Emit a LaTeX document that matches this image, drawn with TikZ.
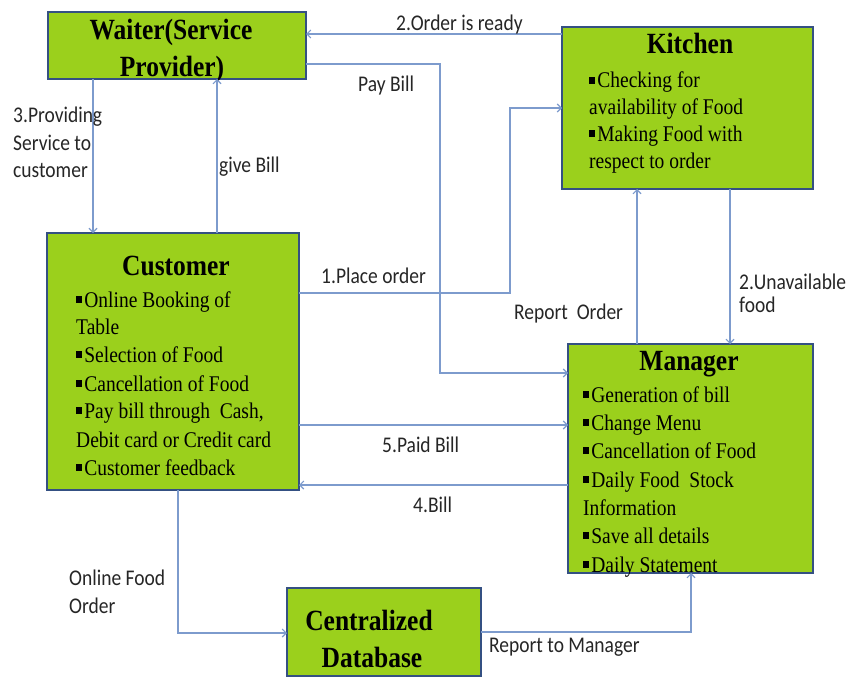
\documentclass[tikz,border=0pt]{standalone}
\usepackage{fontspec}
\setmainfont{Liberation Serif}
\newfontfamily\labfont{Carlito}
\usepackage{graphicx}
\usetikzlibrary{arrows.meta}
\definecolor{boxfill}{RGB}{155,208,28}
\definecolor{boxline}{RGB}{52,80,130}
\definecolor{connline}{RGB}{125,155,205}
\newcommand\sv[1]{\scalebox{1}[1.15]{#1}}
\newcommand\bul{\rule[0.2em]{0.3em}{0.3em}\hspace{0.12em}}
\tikzset{
  box/.style={draw=boxline, fill=boxfill, line width=2pt, rectangle, inner sep=0pt, outer sep=0pt},
  conn/.style={draw=connline, line width=1.1pt, -{Straight Barb[length=4pt,width=8pt]}},
  ttl/.style={inner sep=0pt, anchor=base, font=\fontsize{25.5}{28}\selectfont\bfseries},
  itm/.style={inner sep=0pt, anchor=base west, font=\fontsize{19.5}{24}\selectfont},
  lab/.style={inner sep=0pt, anchor=base west, font=\fontsize{19.5}{24}\selectfont\labfont, text=black!85},
}
\begin{document}
\begin{tikzpicture}[x=1pt,y=-1pt]
\useasboundingbox[fill=white] (0,0) rectangle (851,677);
% boxes
\node[box, minimum width=258pt, minimum height=67pt] (waiter) at (177,45.5) {};
\node[box, minimum width=251pt, minimum height=162pt] (kitchen) at (687.5,108) {};
\node[box, minimum width=252pt, minimum height=257pt] (customer) at (173,361.5) {};
\node[box, minimum width=245pt, minimum height=229pt] (manager) at (690.5,458.5) {};
\node[box, minimum width=194pt, minimum height=88pt] (database) at (384,632) {};
% titles
\node[ttl] (wt1) at (171,40) {\sv{Waiter(Service}};
\node[ttl] (wt2) at (172,77) {\sv{Provider)}};
\node[ttl] (kt) at (690,53) {\sv{Kitchen}};
\node[ttl] (ct) at (176,275) {\sv{Customer}};
\node[ttl] (mt) at (689,370) {\sv{Manager}};
\node[ttl] (dt1) at (369,630) {\sv{Centralized}};
\node[ttl] (dt2) at (372,667) {\sv{Database}};
% kitchen items
\node[itm] (k1) at (589,88) {\sv{\bul Checking for}};
\node[itm] (k2) at (589,114.5) {\sv{availability of Food}};
\node[itm] (k3) at (589,141) {\sv{\bul Making Food with}};
\node[itm] (k4) at (589,168) {\sv{respect to order}};
% customer items
\node[itm] (c1) at (76,307) {\sv{\bul Online Booking of}};
\node[itm] (c2) at (76,334) {\sv{Table}};
\node[itm] (c3) at (76,362) {\sv{\bul Selection of Food}};
\node[itm] (c4) at (76,391) {\sv{\bul Cancellation of Food}};
\node[itm] (c5) at (76,418) {\sv{\bul Pay bill through\ \ Cash,}};
\node[itm] (c6) at (76,447) {\sv{Debit card or Credit card}};
\node[itm] (c7) at (76,475) {\sv{\bul Customer feedback}};
% manager items
\node[itm] (m1) at (583,402) {\sv{\bul Generation of bill}};
\node[itm] (m2) at (583,430) {\sv{\bul Change Menu}};
\node[itm] (m3) at (583,458) {\sv{\bul Cancellation of Food}};
\node[itm] (m4) at (583,487) {\sv{\bul Daily Food\ \ Stock}};
\node[itm] (m5) at (583,515) {\sv{Information}};
\node[itm] (m6) at (583,543) {\sv{\bul Save all details}};
\node[itm] (m7) at (583,572) {\sv{\bul Daily Statement}};
% connectors
\draw[conn] (kitchen.west |- 0,34) -- (waiter.east |- 0,34);
\draw[conn] (waiter.east |- 0,64) -| (440,373) -- (manager.west |- 0,373);
\draw[conn] (customer.east |- 0,293) -| (510,108) -- (kitchen.west |- 0,108);
\draw[conn] (waiter.south -| 93,0) -- (customer.north -| 93,0);
\draw[conn] (customer.north -| 217,0) -- (waiter.south -| 217,0);
\draw[conn] (kitchen.south -| 730,0) -- (manager.north -| 730,0);
\draw[conn] (manager.north -| 637,0) -- (kitchen.south -| 637,0);
\draw[conn] (customer.east |- 0,425) -- (manager.west |- 0,425);
\draw[conn] (manager.west |- 0,485) -- (customer.east |- 0,485);
\draw[conn] (customer.south -| 178,0) |- (database.west |- 0,633);
\draw[conn] (database.east |- 0,632) -| (manager.south -| 691,0);
% labels
\node[lab] (l1) at (396,31) {\sv{2.Order is ready}};
\node[lab] (l2) at (358,92) {\sv{Pay Bill}};
\node[lab] (l3a) at (13,122) {\sv{3.Providing}};
\node[lab] (l3b) at (13,150) {\sv{Service to}};
\node[lab] (l3c) at (13,177) {\sv{customer}};
\node[lab] (l4) at (219,172) {\sv{give Bill}};
\node[lab] (l5) at (321,283) {\sv{1.Place order}};
\node[lab] (l6) at (514,319) {\sv{Report\ \ Order}};
\node[lab] (l7a) at (739,289) {\sv{2.Unavailable}};
\node[lab] (l7b) at (739,312) {\sv{food}};
\node[lab] (l8) at (382,452) {\sv{5.Paid Bill}};
\node[lab] (l9) at (413,512) {\sv{4.Bill}};
\node[lab] (l10a) at (69,585) {\sv{Online Food}};
\node[lab] (l10b) at (69,613) {\sv{Order}};
\node[lab] (l11) at (489,652) {\sv{Report to Manager}};
\end{tikzpicture}
\end{document}
